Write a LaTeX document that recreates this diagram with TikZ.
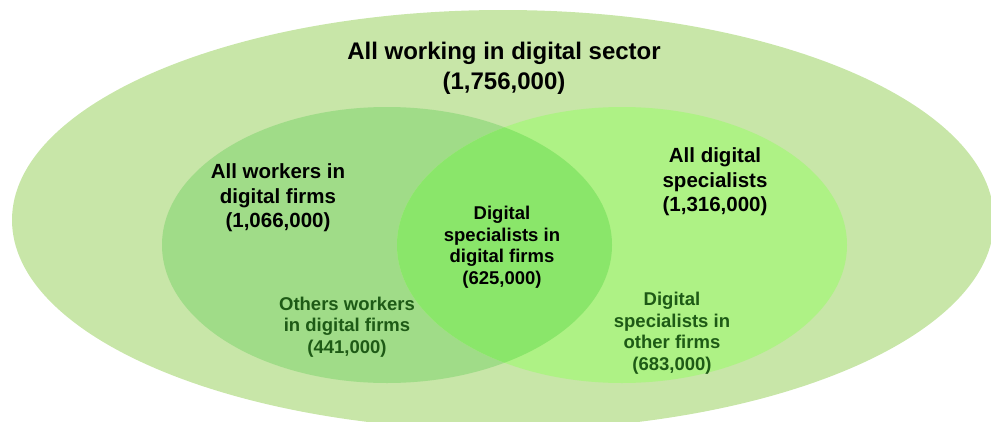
\documentclass[tikz,border=0pt]{standalone}
\usepackage{fontspec}
\setmainfont{Liberation Sans}
\usepackage{tikz}
\definecolor{sectorgreen}{HTML}{C8E6A8}
\definecolor{firmgreen}{HTML}{A0DC88}
\definecolor{specgreen}{HTML}{AEF285}
\definecolor{bothgreen}{HTML}{8AE66A}
\definecolor{subtext}{HTML}{1E5A16}

\begin{document}
\begin{tikzpicture}[line cap=round,line join=round,x=1pt,y=-1pt,
  biglabel/.style={align=center,inner sep=0pt,font=\fontsize{24}{30}\selectfont\bfseries},
  midlabel/.style={align=center,inner sep=0pt,font=\fontsize{20.5}{24.5}\selectfont\bfseries},
  smalllabel/.style={align=center,inner sep=0pt,font=\fontsize{18.5}{21.5}\selectfont\bfseries},
  sublabel/.style={smalllabel,text=subtext}]
\useasboundingbox (0,0) rectangle (991,421);
\clip (0,0) rectangle (991,421);
\fill [sectorgreen] (503,220) ellipse [x radius=491, y radius=210];
\fill [firmgreen] (387,245) ellipse [x radius=225, y radius=138];
\fill [specgreen] (622,245) ellipse [x radius=225, y radius=138];
\begin{scope}
\clip (387,245) ellipse [x radius=225, y radius=138];
\fill [bothgreen] (622,245) ellipse [x radius=225, y radius=138];
\end{scope}

\node [biglabel] (sector) at (504,68) {All working in digital sector\\(1,756,000)};
\node [midlabel] (firms) at (278,198) {All workers in\\digital firms\\(1,066,000)};
\node [midlabel] (specs) at (715,182) {All digital\\specialists\\(1,316,000)};
\node [smalllabel] (both) at (502,247) {Digital\\specialists in\\digital firms\\(625,000)};
\node [sublabel] (others) at (347,327) {Others workers\\in digital firms\\(441,000)};
\node [sublabel] (elsewhere) at (672,333) {Digital\\specialists in\\other firms\\(683,000)};
\end{tikzpicture}
\end{document}
